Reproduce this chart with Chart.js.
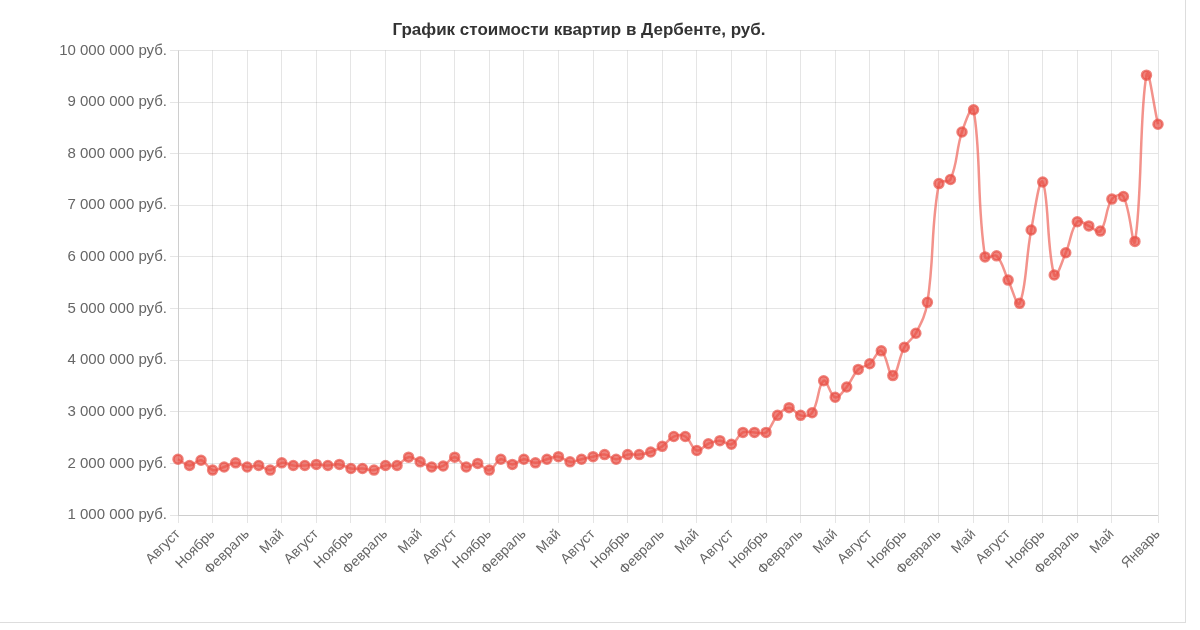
<!DOCTYPE html>
<html><head><meta charset="utf-8">
<script src="https://cdn.jsdelivr.net/npm/chart.js@4"></script>
<style>html,body{margin:0;padding:0;background:#fff;}#wrap{position:absolute;left:0;top:0;width:1185px;height:622px;border-right:1px solid #ddd;border-bottom:1px solid #ddd;}</style>
</head><body>
<div id="wrap"><canvas id="c" width="1185" height="622"></canvas></div>
<script>
const title = "График стоимости квартир в Дербенте, руб.";
const labels = [
"Август","Сентябрь","Октябрь","Ноябрь","Декабрь","Январь","Февраль","Март","Апрель","Май","Июнь","Июль",
"Август","Сентябрь","Октябрь","Ноябрь","Декабрь","Январь","Февраль","Март","Апрель","Май","Июнь","Июль",
"Август","Сентябрь","Октябрь","Ноябрь","Декабрь","Январь","Февраль","Март","Апрель","Май","Июнь","Июль",
"Август","Сентябрь","Октябрь","Ноябрь","Декабрь","Январь","Февраль","Март","Апрель","Май","Июнь","Июль",
"Август","Сентябрь","Октябрь","Ноябрь","Декабрь","Январь","Февраль","Март","Апрель","Май","Июнь","Июль",
"Август","Сентябрь","Октябрь","Ноябрь","Декабрь","Январь","Февраль","Март","Апрель","Май","Июнь","Июль",
"Август","Сентябрь","Октябрь","Ноябрь","Декабрь","Январь","Февраль","Март","Апрель","Май",
"Июнь","Июль","Декабрь","Январь"];
const prices = [
2080000,1960000,2060000,1870000,1930000,2010000,1930000,1960000,1870000,2010000,
1960000,1960000,1980000,1960000,1980000,1900000,1900000,1870000,1960000,1960000,
2120000,2030000,1930000,1950000,2120000,1930000,2000000,1870000,2080000,1980000,
2080000,2010000,2080000,2130000,2030000,2080000,2130000,2170000,2080000,2170000,
2170000,2220000,2330000,2520000,2520000,2250000,2380000,2440000,2370000,2600000,
2600000,2600000,2930000,3080000,2930000,2980000,3600000,3280000,3480000,3820000,
3930000,4180000,3700000,4250000,4520000,5120000,7420000,7500000,8420000,8850000,
6000000,6020000,5550000,5100000,6520000,7450000,5650000,6080000,6680000,6600000,
6500000,7120000,7170000,6300000,9520000,8570000];
const fmt = v => String(v).replace(/\B(?=(\d{3})+(?!\d))/g, " ") + " руб.";
new Chart(document.getElementById('c'), {
  type: 'line',
  data: { labels: labels, datasets: [{
    data: prices,
    borderColor: 'rgba(238,100,90,0.7)',
    pointBackgroundColor: 'rgba(232,80,70,0.7)',
    pointBorderColor: 'rgba(232,80,70,0.7)',
    pointRadius: 4.5, borderWidth: 2.5, tension: 0.4, fill: false
  }]},
  options: {
    responsive: false, animation: false,
    layout: { padding: { left: 0, right: 27, top: 20, bottom: 0 } },
    plugins: {
      legend: { display: false },
      title: { display: true, text: title, color: '#333', font: { family: 'Helvetica, Arial, sans-serif', size: 17, weight: 'bold' }, padding: { top: 0, bottom: 10 } }
    },
    scales: {
      x: {
        afterFit: s => { s.height = 107; },
        grid: { color: 'rgba(0,0,0,0.1)' },
        ticks: { autoSkip: false, maxRotation: 45, minRotation: 45, color: '#666', font: { size: 14, family: 'Helvetica, Arial, sans-serif' },
          callback: function(v, i) { return (i % 3 === 0 && i <= 81) || i === labels.length - 1 ? labels[i] : null; } }
      },
      y: {
        min: 1000000, max: 10000000,
        afterFit: s => { s.width = 178; },
        grid: { color: 'rgba(0,0,0,0.1)' },
        ticks: { stepSize: 1000000, color: '#666', font: { size: 15, family: 'Helvetica, Arial, sans-serif' }, callback: v => fmt(v) }
      }
    }
  }
});
</script>
</body></html>
